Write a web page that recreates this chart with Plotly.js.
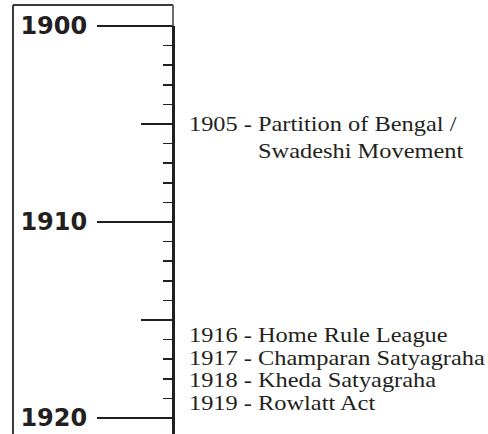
<!DOCTYPE html>
<html><head><meta charset="utf-8">
<script src="https://cdn.plot.ly/plotly-3.0.1.min.js"></script>
<style>
html,body{margin:0;padding:0;background:#fff;overflow:hidden}
.annotation-text{transform-box:fill-box;transform-origin:0 50%;transform:scaleX(1.22)}
</style>
</head><body><div id="chart" style="width:488px;height:434px"></div>
<script>
// ---- data ----
const decadeYears = [1900, 1910, 1920];
const decadeLabels = ['1900', '1910', '1920'];
const halfDecadeYears = [1905, 1915];
const eventYears = [1905, 1916, 1917, 1918, 1919];
const eventLines = [
  ['Partition of Bengal /', 'Swadeshi Movement'],
  ['Home Rule League'],
  ['Champaran Satyagraha'],
  ['Kheda Satyagraha'],
  ['Rowlatt Act']
];

// ---- layout constants ----
const W = 488, H = 434, TOP = 26, AXIS_X = 173, PX_PER_YEAR = 19.6;
const FRAME_L = 13, FRAME_T = 5;
const PREFIX_X = 187, DESC_X = 256, LINE_GAP = 27, MIN_GAP = 22.7;
const INK = '#231f20', FRAME = '#3a3a3a';
const yStart = decadeYears[0];
const yMax = yStart + (H - TOP) / PX_PER_YEAR;
const px2paperY = p => 1 - (p - TOP) / (H - TOP);

// ---- annotations (events) ----
const annotations = [];
const serif = {family: 'Liberation Serif', size: 20, color: INK};
let i = 0;
while (i < eventYears.length) {
  let j = i;
  while (j + 1 < eventYears.length && eventYears[j + 1] - eventYears[j] === 1) j++;
  const n = j - i + 1;
  for (let k = i; k <= j; k++) {
    const s = -((k - i) - (n - 1) / 2) * (MIN_GAP - PX_PER_YEAR);
    annotations.push({x: PREFIX_X, y: eventYears[k], xref: 'x', yref: 'y', xanchor: 'left', yanchor: 'middle',
      yshift: s, text: eventYears[k] + ' -', showarrow: false, font: serif});
    eventLines[k].forEach((line, li) => {
      annotations.push({x: DESC_X, y: eventYears[k], xref: 'x', yref: 'y', xanchor: 'left', yanchor: 'middle',
        yshift: s - li * LINE_GAP, text: line, showarrow: false, font: serif});
    });
  }
  i = j + 1;
}

const shapes = [
  {type: 'line', xref: 'paper', yref: 'paper', x0: FRAME_L / W, x1: AXIS_X / W, y0: px2paperY(FRAME_T), y1: px2paperY(FRAME_T), line: {color: FRAME, width: 2}},
  {type: 'line', xref: 'paper', yref: 'paper', x0: FRAME_L / W, x1: FRAME_L / W, y0: px2paperY(FRAME_T), y1: 0, line: {color: FRAME, width: 2}},
  {type: 'line', xref: 'paper', yref: 'paper', x0: AXIS_X / W, x1: AXIS_X / W, y0: px2paperY(FRAME_T), y1: 1, line: {color: FRAME, width: 1.5}}
];

const traces = [
  {x: [0], y: [yStart], yaxis: 'y', mode: 'markers', marker: {opacity: 0}, hoverinfo: 'skip'},
  {x: [0], y: [yStart], yaxis: 'y2', mode: 'markers', marker: {opacity: 0}, hoverinfo: 'skip'}
];

const layout = {
  width: W, height: H, margin: {l: 0, r: 0, t: TOP, b: 0, pad: 0},
  paper_bgcolor: '#fff', plot_bgcolor: 'rgba(0,0,0,0)', showlegend: false,
  xaxis: {range: [0, W], visible: false, fixedrange: true},
  yaxis: {range: [yMax, yStart], anchor: 'free', position: AXIS_X / W, side: 'left',
    showgrid: false, zeroline: false, showline: true, linewidth: 3, linecolor: INK,
    ticks: 'outside', tickmode: 'array', tickvals: halfDecadeYears, ticklen: 31, tickwidth: 1.5, tickcolor: INK,
    showticklabels: false, fixedrange: true,
    minor: {tickmode: 'linear', tick0: yStart, dtick: 1, ticks: 'outside', ticklen: 9, tickwidth: 1.5, tickcolor: INK, showgrid: false}},
  yaxis2: {overlaying: 'y', range: [yMax, yStart], anchor: 'free', position: AXIS_X / W, side: 'left',
    showgrid: false, zeroline: false, showline: false,
    ticks: 'outside', tickmode: 'array', tickvals: decadeYears, ticktext: decadeLabels, ticklen: 76, tickwidth: 1.5, tickcolor: INK,
    tickfont: {family: 'DejaVu Sans', size: 24, color: INK, weight: 'bold'}, ticklabelstandoff: 5, fixedrange: true},
  shapes: shapes,
  annotations: annotations
};

Plotly.newPlot('chart', traces, layout, {displayModeBar: false, staticPlot: true});
</script></body></html>
